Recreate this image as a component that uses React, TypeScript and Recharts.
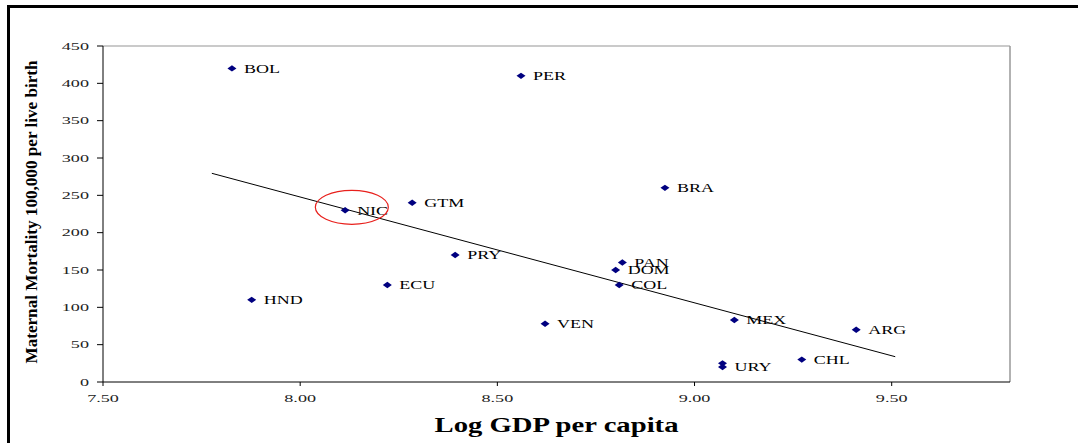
import { ScatterChart, Scatter, XAxis, YAxis, ReferenceLine, ReferenceDot, Label } from 'recharts';

const countries = ['BOL', 'PER', 'BRA', 'GTM', 'NIC', 'PRY', 'PAN', 'DOM', 'COL', 'ECU', 'HND', 'VEN', 'MEX', 'ARG', 'CHL', 'URY', ''];
const logGdp = [7.827, 8.56, 8.925, 8.284, 8.114, 8.393, 8.817, 8.8, 8.809, 8.221, 7.877, 8.621, 9.101, 9.41, 9.272, 9.071, 9.071];
const mortality = [420, 410, 260, 240, 230, 170, 160, 150, 130, 130, 110, 78, 83, 70, 30, 20, 25];

const xTicks = [7.5, 8.0, 8.5, 9.0, 9.5];
const yTicks = [0, 50, 100, 150, 200, 250, 300, 350, 400, 450];

// fitted line endpoints
const trendX = [7.776, 9.509];
const trendY = [279.5, 33.9];

// highlighted country
const circled = { x: 8.131, y: 234 };

const points = countries.map((name, i) => ({ name, x: logGdp[i], y: mortality[i] }));

const SERIF = '"Liberation Serif", "Times New Roman", serif';

function Diamond(props: any) {
  const { cx, cy, payload } = props;
  return (
    <g>
      <path d={`M${cx - 4.5},${cy} L${cx},${cy - 3.2} L${cx + 4.5},${cy} L${cx},${cy + 3.2} Z`} fill="#000080" />
      {payload.name ? (
        <text
          transform={`translate(${cx + 12},${cy}) scale(1.5,1)`}
          fontFamily={SERIF}
          fontSize={12}
          fill="#000"
          dominantBaseline="central"
        >
          {payload.name}
        </text>
      ) : null}
    </g>
  );
}

function XTick(props: any) {
  const { x, y, payload } = props;
  return (
    <text transform={`translate(${x},${y + 12}) scale(1.65,1)`} textAnchor="middle" fontFamily={SERIF} fontSize={11} fill="#222">
      {Number(payload.value).toFixed(2)}
    </text>
  );
}

function YTick(props: any) {
  const { x, y, payload } = props;
  return (
    <text transform={`translate(${x},${y}) scale(1.65,1)`} textAnchor="end" dominantBaseline="central" fontFamily={SERIF} fontSize={11} fill="#222">
      {payload.value}
    </text>
  );
}

function XTitle(props: any) {
  const { x, y, width } = props.viewBox;
  return (
    <text x={x + width / 2} y={y + 50} textAnchor="middle" fontFamily={SERIF} fontWeight="bold" fontSize={20}
      textLength={244} lengthAdjust="spacingAndGlyphs" fill="#000">
      Log GDP per capita
    </text>
  );
}

function YTitle(props: any) {
  const { x, y, height } = props.viewBox;
  const cx = x + 23.5;
  const cy = y + height / 2 - 2;
  return (
    <text x={cx} y={cy} transform={`rotate(-90, ${cx}, ${cy})`} textAnchor="middle" dominantBaseline="central"
      fontFamily={SERIF} fontWeight="bold" fontSize={16} textLength={303} lengthAdjust="spacingAndGlyphs" fill="#000">
      Maternal Mortality 100,000 per live birth
    </text>
  );
}

export default function App() {
  return (
    <div style={{ position: 'absolute', left: 0, top: 0, width: 1078, height: 443, overflow: 'hidden', background: '#fff' }}>
      <div style={{ position: 'absolute', left: 7, top: 5, width: 1200, height: 600, border: '3px solid #000', boxSizing: 'border-box' }} />
      <div style={{ position: 'absolute', left: 0, top: 0 }}>
        <ScatterChart width={1078} height={443} margin={{ top: 46, right: 68, bottom: 6, left: 8 }}>
          <XAxis
            type="number"
            dataKey="x"
            domain={[7.5, 9.8]}
            ticks={xTicks}
            allowDataOverflow
            height={55}
            tickSize={4}
            tickMargin={4}
            stroke="#000"
            tick={(p: any) => <XTick {...p} />}
          >
            <Label content={(p: any) => <XTitle {...p} />} />
          </XAxis>
          <YAxis
            type="number"
            dataKey="y"
            domain={[0, 450]}
            ticks={yTicks}
            allowDataOverflow
            width={95}
            tickSize={6}
            tickMargin={8}
            stroke="#000"
            tick={(p: any) => <YTick {...p} />}
          >
            <Label content={(p: any) => <YTitle {...p} />} />
          </YAxis>
          <ReferenceLine y={450} stroke="#b8b8b8" strokeWidth={1.5} />
          <ReferenceLine x={9.8} stroke="#999" strokeWidth={1.5} />
          <ReferenceLine
            segment={[{ x: trendX[0], y: trendY[0] }, { x: trendX[1], y: trendY[1] }]}
            stroke="#000"
            strokeWidth={1}
          />
          <Scatter data={points} isAnimationActive={false} shape={(p: any) => <Diamond {...p} />} />
          <ReferenceDot
            x={circled.x}
            y={circled.y}
            shape={(p: any) => <ellipse cx={p.cx} cy={p.cy} rx={36.5} ry={17} fill="none" stroke="#e8201c" strokeWidth={1.2} />}
          />
        </ScatterChart>
      </div>
    </div>
  );
}
